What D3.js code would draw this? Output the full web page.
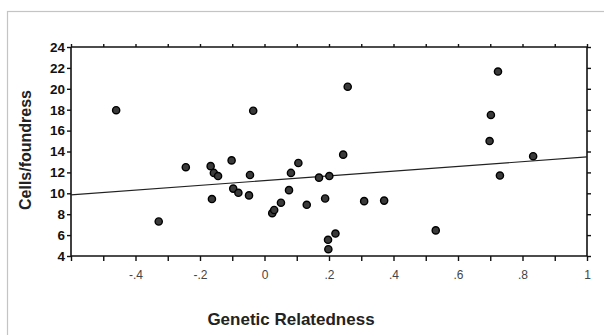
<!DOCTYPE html>
<html>
<head>
<meta charset="utf-8">
<script src="https://cdn.jsdelivr.net/npm/d3@7"></script>
<style>
  html, body { margin: 0; padding: 0; background: #fff; }
  svg { display: block; }
  text { font-family: "Liberation Sans", Arial, sans-serif; }
</style>
</head>
<body>
<svg id="chart" width="604" height="335"></svg>
<script>
// Data
const relatedness = [-0.46, -0.328, -0.244, -0.167, -0.157, -0.144, -0.102, -0.163, -0.097, -0.081,
  -0.035, 0.258, 0.244, -0.045, -0.048, 0.105, 0.082, 0.169, 0.201, 0.076,
  0.051, 0.024, 0.030, 0.131, 0.188, 0.309, 0.371, 0.197, 0.220, 0.198,
  0.724, 0.702, 0.698, 0.833, 0.730, 0.531];
const cellsPerFoundress = [17.95, 7.3, 12.5, 12.6, 11.95, 11.65, 13.15, 9.45, 10.45, 10.05,
  17.9, 20.2, 13.7, 11.75, 9.8, 12.9, 11.95, 11.5, 11.65, 10.3,
  9.1, 8.1, 8.4, 8.9, 9.5, 9.25, 9.3, 5.55, 6.15, 4.65,
  21.65, 17.5, 15.0, 13.55, 11.7, 6.45];
const fitX = [-0.6, 1.0];
const fitY = [9.85, 13.48];
const xTickValues = [-0.6, -0.5, -0.4, -0.3, -0.2, -0.1, 0, 0.1, 0.2, 0.3, 0.4, 0.5, 0.6, 0.7, 0.8, 0.9, 1.0];
const xTickLabels = {"-0.4": "-.4", "-0.2": "-.2", "0": "0", "0.2": ".2", "0.4": ".4", "0.6": ".6", "0.8": ".8", "1": "1"};
const yTickValues = [4, 6, 8, 10, 12, 14, 16, 18, 20, 22, 24];
const xTitle = "Genetic Relatedness";
const yTitle = "Cells/foundress";

const svg = d3.select("#chart");

// outer light frame
svg.append("rect")
  .attr("x", 7.5).attr("y", 11.5)
  .attr("width", 640).attr("height", 400)
  .attr("fill", "none").attr("stroke", "#c4c4c4").attr("stroke-width", 1.2);

const x = d3.scaleLinear().domain([-0.6, 1.0]).range([71, 587]);
const y = d3.scaleLinear().domain([4, 24]).range([256, 47]);

const fmtX = d => { const k = String(Math.round(d * 10) / 10); return xTickLabels[k] || ""; };

const gB = svg.append("g").attr("transform", `translate(0,${y(4)})`)
  .call(d3.axisBottom(x).tickValues(xTickValues).tickSize(5).tickPadding(9).tickFormat(fmtX));
gB.selectAll("text").attr("font-size", 12).attr("fill", "#444").attr("font-family", "Liberation Sans, Arial, sans-serif");

const gT = svg.append("g").attr("transform", `translate(0,${y(24)})`)
  .call(d3.axisTop(x).tickValues(xTickValues).tickSize(3).tickFormat(""));

const gL = svg.append("g").attr("transform", `translate(${x(-0.6)},0)`)
  .call(d3.axisLeft(y).tickValues(yTickValues).tickSize(4).tickPadding(2).tickFormat(d3.format("d")));
gL.selectAll("text").attr("font-size", 13.5).attr("font-weight", "bold").attr("fill", "#111")
  .attr("font-family", "Liberation Sans, Arial, sans-serif");

const gR = svg.append("g").attr("transform", `translate(${x(1.0)},0)`)
  .call(d3.axisRight(y).tickValues(yTickValues).tickSize(4).tickFormat(""));

svg.selectAll(".domain").attr("stroke", "#111").attr("stroke-width", 1.6);
svg.selectAll(".tick line").attr("stroke", "#111").attr("stroke-width", 1.4);
// make domain paths plain lines (no outer ticks)
gB.select(".domain").attr("d", `M${x(-0.6)},0H${x(1.0)}`);
gT.select(".domain").attr("d", `M${x(-0.6)},0H${x(1.0)}`);
gL.select(".domain").attr("d", `M0,${y(4)}V${y(24)}`);
gR.select(".domain").attr("d", `M0,${y(4)}V${y(24)}`);

// regression line
svg.append("line")
  .attr("x1", x(fitX[0])).attr("y1", y(fitY[0]))
  .attr("x2", x(fitX[1])).attr("y2", y(fitY[1]))
  .attr("stroke", "#222").attr("stroke-width", 1.2);

// points
svg.append("g").selectAll("circle")
  .data(relatedness.map((r, i) => [r, cellsPerFoundress[i]]))
  .join("circle")
  .attr("cx", d => x(d[0])).attr("cy", d => y(d[1])).attr("r", 3.6)
  .attr("fill", "#3a3a3a").attr("stroke", "#000").attr("stroke-width", 1.4);

// titles
svg.append("text")
  .attr("x", 291).attr("y", 325)
  .attr("text-anchor", "middle").attr("font-size", 17).attr("font-weight", "bold").attr("fill", "#222")
  .text(xTitle);

svg.append("text")
  .attr("transform", `translate(31,150) rotate(-90)`)
  .attr("text-anchor", "middle").attr("font-size", 16).attr("font-weight", "bold").attr("fill", "#222")
  .text(yTitle);
</script>
</body>
</html>
